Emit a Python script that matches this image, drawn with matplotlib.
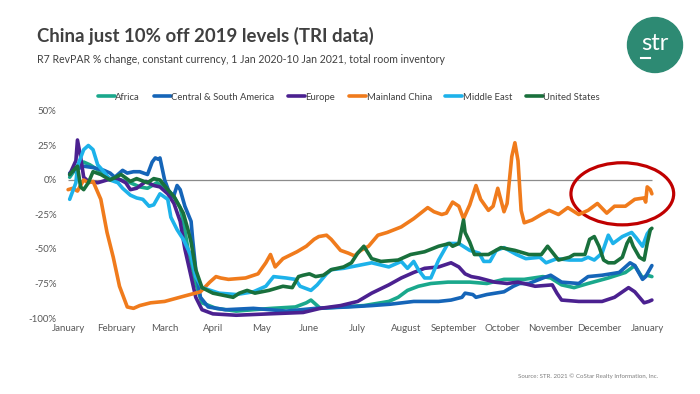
import matplotlib
matplotlib.use('Agg')
from matplotlib import pyplot as plt
from matplotlib.patches import Ellipse

plt.rcParams['font.family'] = ['Lato', 'DejaVu Sans']

# day index: 0 = 1 Jan 2020, 375 = 10 Jan 2021
africa_d = [1, 6, 10, 14, 21, 27, 34, 40, 46, 51, 57, 64, 68, 72, 74, 77, 82, 86, 95, 108, 119, 131, 146,
            153, 156, 162, 175, 190, 206, 212, 218, 225, 233, 244, 258, 269, 280, 293, 305, 310, 317, 325,
            334, 347, 358, 364, 369, 372, 375]
africa_v = [2, 10, 13, 11, 6, 1, 0, -2, -5, -6, -2, -7, -12, -20, -30, -50, -75, -89, -93, -95, -94, -93, -92,
            -89, -87, -93, -92, -91, -88, -85, -80, -77, -75, -74, -74, -75, -72, -72, -70, -71, -76, -78,
            -75, -71, -67, -62, -71, -69, -70]

csa_d = [1, 6, 10, 16, 23, 27, 30, 35, 38, 42, 46, 51, 54, 56, 58, 59, 62, 66, 68, 70, 72, 75, 79, 80, 82,
         85, 90, 101, 119, 140, 159, 180, 195, 207, 222, 238, 246, 253, 255, 260, 262, 269, 280, 286, 290,
         296, 305, 310, 317, 328, 334, 343, 354, 361, 364, 369, 371, 375]
csa_v = [5, 8, 10, 9, 7, 5, 2, 7, 5, 6, 6, 4, 13, 16, 15, 16, 0, -12, -11, -4, -7, -19, -30, -43, -65,
         -85, -92, -94, -93, -95, -93, -92, -91, -90, -88, -88, -87, -85, -82, -83, -85, -83, -81, -77, -75,
         -75, -71, -69, -74, -75, -70, -69, -67, -60, -62, -72, -70, -62]

europe_d = [1, 5, 6, 8, 10, 13, 19, 25, 32, 37, 40, 44, 50, 55, 59, 64, 68, 72, 75, 79, 82, 86, 93, 108,
            129, 151, 162, 175, 186, 195, 206, 214, 222, 229, 238, 246, 251, 255, 259, 264, 274, 282, 289,
            300, 311, 314, 317, 328, 343, 351, 360, 364, 370, 373, 375]
europe_v = [4, 14, 29, 17, 2, -1, -2, 0, 1, -2, -7, -6, -1, -4, -5, -10, -17, -30, -50, -70, -85, -94, -97,
            -98, -97, -96, -93, -91, -88, -82, -76, -71, -67, -64, -63, -60, -63, -68, -70, -71, -74, -75,
            -74, -77, -76, -82, -87, -88, -88, -85, -78, -81, -89, -88, -87]

china_d = [0, 3, 6, 10, 13, 16, 21, 25, 29, 33, 38, 42, 46, 53, 62, 75, 85, 91, 95, 98, 103, 114, 122, 127,
           130, 133, 138, 147, 153, 158, 161, 166, 169, 175, 180, 184, 188, 193, 199, 205, 214, 222, 231,
           235, 240, 243, 247, 251, 254, 258, 262, 265, 270, 273, 276, 280, 282, 285, 287, 289, 291, 293,
           298, 304, 309, 315, 321, 328, 334, 340, 346, 351, 358, 364, 370, 371, 372, 374, 375]
china_v = [-7, -6, -8, 0, -2, -1, -14, -38, -56, -77, -92, -93, -91, -89, -88, -84, -81, -74, -70, -71,
           -72, -71, -68, -60, -54, -63, -57, -52, -48, -43, -41, -40, -43, -51, -53, -55, -51, -48, -40,
           -38, -34, -28, -20, -23, -25, -24, -16, -19, -28, -18, -4, -14, -22, -19, -6, -23, -17, 17, 27,
           14, -22, -31, -29, -25, -22, -25, -20, -25, -22, -17, -24, -19, -19, -14, -13, -16, -5, -7, -10]

me_d = [1, 5, 6, 10, 13, 16, 19, 23, 27, 32, 35, 40, 44, 48, 52, 55, 59, 64, 66, 70, 74, 79, 82, 86, 97,
        108, 119, 127, 132, 140, 146, 149, 156, 160, 166, 169, 177, 186, 195, 206, 214, 218, 222, 225,
        229, 233, 238, 244, 251, 258, 264, 267, 271, 275, 280, 288, 294, 303, 307, 314, 322, 330, 334,
        338, 343, 347, 350, 356, 362, 365, 369, 372, 374]
me_v = [-14, -2, 10, 22, 25, 22, 11, 6, 0, -2, -6, -11, -13, -14, -19, -18, -10, -14, -27, -36, -43, -55,
        -70, -78, -82, -83, -81, -77, -70, -71, -72, -77, -80, -76, -68, -65, -64, -62, -60, -63, -59,
        -64, -59, -65, -71, -71, -58, -46, -46, -51, -53, -59, -59, -51, -49, -54, -57, -56, -60, -57,
        -58, -58, -56, -58, -53, -40, -46, -41, -38, -42, -48, -39, -36]

us_d = [1, 6, 8, 10, 13, 16, 21, 27, 34, 40, 44, 51, 55, 59, 64, 68, 74, 77, 79, 82, 86, 93, 106, 110,
        115, 120, 129, 138, 144, 148, 151, 155, 159, 164, 169, 177, 182, 186, 190, 195, 201, 212, 220,
        229, 238, 245, 247, 249, 251, 254, 255, 258, 261, 270, 278, 287, 296, 304, 308, 315, 322, 325,
        332, 335, 338, 341, 344, 347, 351, 356, 359, 361, 363, 367, 370, 372, 374, 375]
us_v = [4, 10, -5, -7, -2, 6, 4, 0, 4, -1, 1, -2, 1, 0, -7, -12, -24, -36, -45, -65, -78, -82, -85, -82,
        -80, -82, -80, -77, -78, -70, -69, -68, -70, -69, -65, -63, -60, -53, -48, -57, -59, -58, -54,
        -52, -48, -46, -48, -47, -46, -29, -38, -45, -54, -54, -49, -51, -54, -54, -48, -58, -56, -54,
        -54, -43, -41, -48, -58, -60, -60, -56, -46, -42, -48, -56, -58, -46, -36, -35]

names = ['Africa', 'Central & South America', 'Europe', 'Mainland China', 'Middle East', 'United States']
colors = ['#1aa88c', '#1565b8', '#4b2190', '#f07b1c', '#1db2ea', '#19703c']
series = [(africa_d, africa_v), (csa_d, csa_v), (europe_d, europe_v),
          (china_d, china_v), (me_d, me_v), (us_d, us_v)]

month_names = ['January', 'February', 'March', 'April', 'May', 'June', 'July', 'August',
               'September', 'October', 'November', 'December', 'January']
month_pos = [31 * i for i in range(13)]
yticks = [50, 25, 0, -25, -50, -75, -100]

fig = plt.figure(figsize=(7, 3.94), dpi=100)
ax = fig.add_axes([65 / 700, 76 / 394, 590 / 700, 207 / 394])

for (d, v), name, c in zip(series, names, colors):
    ax.plot(d, v, color=c, lw=2.6, label=name, solid_capstyle='round', solid_joinstyle='round')

ax.hlines(0, 0, 375, color='#8c8c8c', lw=0.9, zorder=0)

ax.set_xlim(-2, 377)
ax.set_ylim(-100, 50)
for s in ax.spines.values():
    s.set_visible(False)
ax.set_yticks(yticks)
ax.set_yticklabels([f'{t}%' for t in yticks])
ax.set_xticks(month_pos)
ax.set_xticklabels(month_names)
ax.tick_params(length=0, labelsize=7, colors='#595959', pad=4)
ax.tick_params(axis='y', pad=6)

# red circle round the latest China values
ell = Ellipse((356, -10), 66, 45, fill=False, ec='#c00000', lw=2.3, clip_on=False)
ax.add_patch(ell)

fig.legend(loc='center', bbox_to_anchor=(349 / 700, 1 - 97 / 394), ncol=6, frameon=False,
           fontsize=6.8, handlelength=1.8, handletextpad=0.05, columnspacing=1.45,
           labelcolor='#404040')

fig.text(37 / 700, 1 - 42 / 394, 'China just 10% off 2019 levels (TRI data)', fontsize=13.4,
         fontweight='bold', color='#404040', va='baseline')
fig.text(37 / 700, 1 - 63 / 394,
         'R7 RevPAR % change, constant currency, 1 Jan 2020-10 Jan 2021, total room inventory',
         fontsize=7.6, color='#404040', va='baseline')
fig.text(658 / 700, 1 - 376 / 394, 'Source: STR. 2021 \u00a9 CoStar Realty Information, Inc.',
         fontsize=4.4, color='#7f7f7f', ha='right', va='center')

# str logo
fig.patches.append(Ellipse((655 / 700, 1 - 45 / 394), 55 / 700, 55 / 394, transform=fig.transFigure,
                           color='#2d8a73'))
fig.text(655 / 700, 1 - 43 / 394, 'str', color='white', fontsize=17, ha='center', va='center')
fig.lines.append(plt.Line2D([641 / 700, 650 / 700], [1 - 58 / 394, 1 - 58 / 394],
                            transform=fig.transFigure, color='white', lw=1.5))

fig.savefig('out.png', dpi=100)
